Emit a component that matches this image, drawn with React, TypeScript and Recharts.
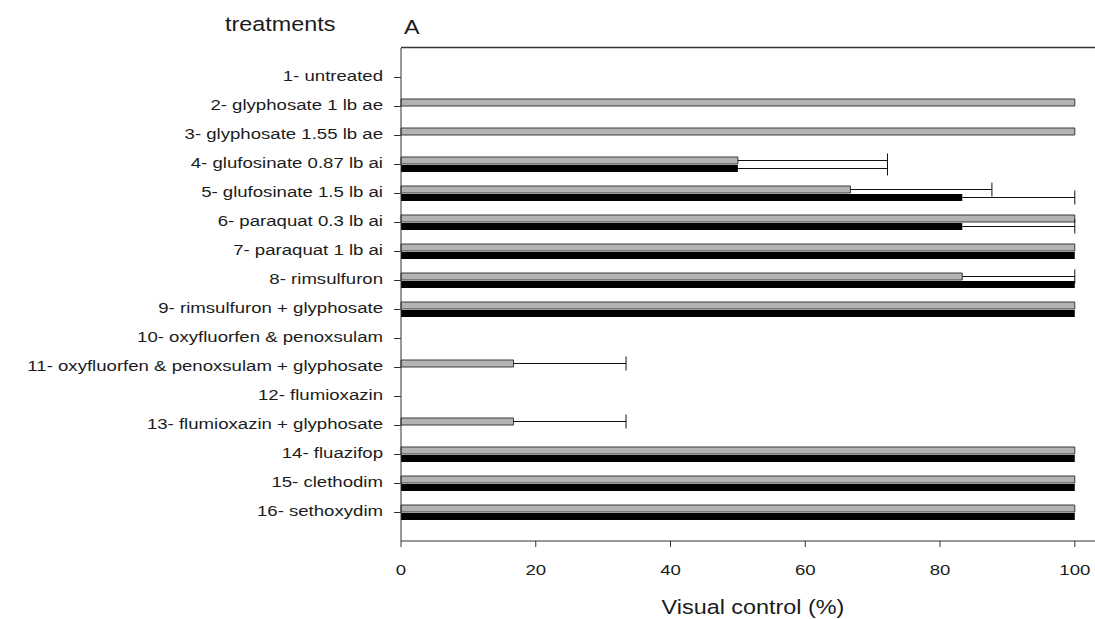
import { BarChart, Bar, XAxis, YAxis } from "recharts";

const treatments = [
  "1- untreated",
  "2- glyphosate 1 lb ae",
  "3- glyphosate 1.55 lb ae",
  "4- glufosinate 0.87 lb ai",
  "5- glufosinate 1.5 lb ai",
  "6- paraquat 0.3 lb ai",
  "7- paraquat 1 lb ai",
  "8- rimsulfuron",
  "9- rimsulfuron + glyphosate",
  "10- oxyfluorfen & penoxsulam",
  "11- oxyfluorfen & penoxsulam + glyphosate",
  "12- flumioxazin",
  "13- flumioxazin + glyphosate",
  "14- fluazifop",
  "15- clethodim",
  "16- sethoxydim",
];

// gray bars (upper) and their + error
const grayControl = [0, 100, 100, 50, 66.7, 100, 100, 83.3, 100, 0, 16.7, 0, 16.7, 100, 100, 100];
const grayErr = [0, 0, 0, 22.2, 21, 0, 0, 16.7, 0, 0, 16.7, 0, 16.7, 0, 0, 0];

// black bars (lower) and their + error
const blackControl = [0, 0, 0, 50, 83.3, 83.3, 100, 100, 100, 0, 0, 0, 0, 100, 100, 100];
const blackErr = [0, 0, 0, 22.2, 16.7, 16.7, 0, 0, 0, 0, 0, 0, 0, 0, 0, 0];

const xTicks = [0, 20, 40, 60, 80, 100];
const xMax = 103;

const data = treatments.map((name, i) => ({
  name,
  gray: grayControl[i],
  grayErr: grayErr[i],
  black: blackControl[i],
  blackErr: blackErr[i],
}));

const W = 1095;
const H = 619;
const TOP = 48;
const Y_AXIS_W = 401;
const FONT = '"Liberation Sans", Arial, sans-serif';
const INK = "#1c1c1c";
const AXIS = "#333333";

const YTick = ({ x, y, payload }: any) => (
  <text
    transform={`translate(${x},${y + 3.5}) scale(1.2,1)`}
    textAnchor="end"
    fontFamily={FONT}
    fontSize={15.5}
    fill={INK}
  >
    {payload.value}
  </text>
);

const XTick = ({ x, y, payload }: any) => (
  <text
    transform={`translate(${x},${y + 26}) scale(1.2,1)`}
    textAnchor="middle"
    fontFamily={FONT}
    fontSize={15.5}
    fill={INK}
  >
    {payload.value}
  </text>
);

// one-sided error whisker drawn on the stacked segment
const ErrShape = (props: any) => {
  const { x, y, width, height } = props;
  if (!width || width <= 0) return null;
  const cy = y + height / 2;
  return (
    <g stroke="#111" strokeWidth={1}>
      <line x1={x} y1={cy} x2={x + width} y2={cy} />
      <line x1={x + width} y1={cy - 7} x2={x + width} y2={cy + 7} />
    </g>
  );
};

const XTitle = () => (
  <text
    transform="translate(753,614) scale(1.2,1)"
    textAnchor="middle"
    fontFamily={FONT}
    fontSize={19.5}
    fill={INK}
  >
    Visual control (%)
  </text>
);

// titles above the plot, plus the top edge of the frame
const YTitle = () => (
  <g>
    <path d={`M${Y_AXIS_W},${TOP - 0.5}H${W}`} stroke={AXIS} strokeWidth={1.5} fill="none" />
    <g fontFamily={FONT} fontSize={19.5} fill={INK}>
      <text transform="translate(225,30.5) scale(1.2,1)">treatments</text>
      <text transform="translate(404,34) scale(1.2,1)">A</text>
    </g>
  </g>
);

export default function App() {
  return (
    <div style={{ position: "absolute", left: 0, top: 0, background: "#fff" }}>
      <BarChart
        width={W}
        height={H}
        data={data}
        layout="vertical"
        margin={{ top: TOP, right: 0, bottom: 0, left: 0 }}
        barSize={7}
        barGap={1}
      >
        <XAxis
          type="number"
          domain={[0, xMax]}
          ticks={xTicks}
          height={78}
          tickSize={6}
          tickMargin={2}
          axisLine={{ stroke: AXIS }}
          tickLine={{ stroke: AXIS }}
          tick={<XTick />}
          label={<XTitle />}
        />
        <YAxis
          type="category"
          dataKey="name"
          width={Y_AXIS_W}
          interval={0}
          padding={{ top: 15, bottom: 14 }}
          tickSize={7}
          tickMargin={11}
          axisLine={{ stroke: AXIS }}
          tickLine={{ stroke: AXIS }}
          tick={<YTick />}
          label={<YTitle />}
        />
        <Bar dataKey="gray" stackId="g" fill="#b3b3b3" stroke="#3a3a3a" strokeWidth={1} isAnimationActive={false} />
        <Bar dataKey="grayErr" stackId="g" shape={<ErrShape />} isAnimationActive={false} />
        <Bar dataKey="black" stackId="b" fill="#000000" isAnimationActive={false} />
        <Bar dataKey="blackErr" stackId="b" shape={<ErrShape />} isAnimationActive={false} />
      </BarChart>
    </div>
  );
}
